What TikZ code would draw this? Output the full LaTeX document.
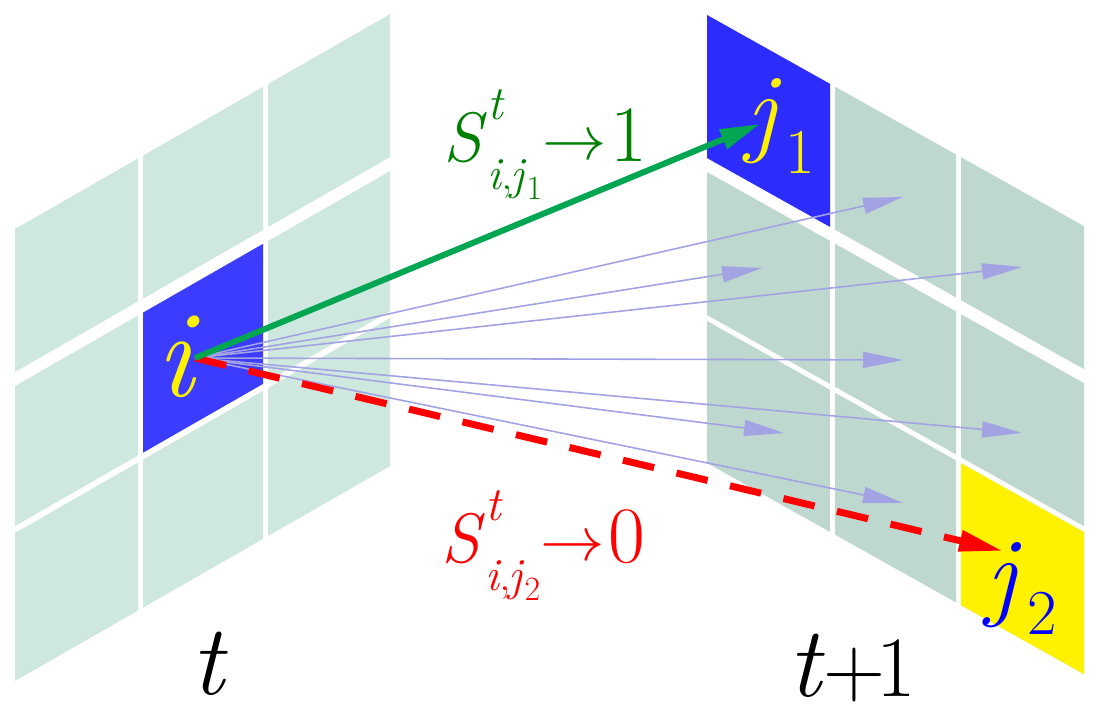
\documentclass[tikz,border=0pt]{standalone}
\usepackage{graphicx}
\usetikzlibrary{arrows.meta}
\definecolor{cellL}{HTML}{CFE8DF}
\definecolor{cellR}{HTML}{BED8CF}
\definecolor{cellBlue}{HTML}{3C3CFF}
\definecolor{cellBlueR}{HTML}{2C2CFF}
\definecolor{simGreen}{HTML}{00A651}
\definecolor{txtGreen}{HTML}{008000}
\definecolor{candLine}{HTML}{A3A3E3}
\newcommand{\fsz}[1]{\fontsize{#1}{#1}\selectfont}
\newcommand{\simlabel}[2]{{\fsz{35}\textit{S}}\rlap{\raisebox{21pt}{\fsz{24}\textit{t}}}\raisebox{-14pt}{\fsz{23}\textit{i}\hspace{-1pt},\hspace{-1pt}\textit{j}\raisebox{-5pt}{\fsz{17}#1}}\raisebox{1pt}{\scalebox{1.55}[1.5]{\fsz{20.74}$\rightarrow$}}\hspace{2pt}#2}
\begin{document}
\begin{tikzpicture}[x=0.5pt,y=-0.5pt,
    cand/.style={candLine,line width=0.8pt,-{Triangle[length=20pt,width=8pt]}},
    highsim/.style={simGreen,line width=3pt,-{Triangle[length=20pt,width=10pt]}},
    lowsim/.style={red,line width=3.5pt,dash pattern=on 16pt off 11.5pt,-{Triangle[length=22pt,width=10pt]}},
    big/.style={font=\fsz{50}}]
    \useasboundingbox (0,0) rectangle (1103,721);
    \begin{scope}[shift={(15,229)},yslant=0.573]
        \foreach \ua/\ub in {0/123,128/248,253/375}
            \foreach \va/\vb in {0/143,157/297,304/452}
                \fill[cellL] (\ua,\va) rectangle (\ub,\vb);
        \fill[cellBlue] (128,157) rectangle (248,297);
    \end{scope}
    \begin{scope}[shift={(707,15)},yslant=-0.56]
        \foreach \ua/\ub in {0/123,128/249,254/377}
            \foreach \va/\vb in {0/143,157/300,306/448}
                \fill[cellR] (\ua,\va) rectangle (\ub,\vb);
        \fill[cellBlueR] (0,0) rectangle (123,143);
        \fill[yellow] (254,306) rectangle (377,448);
    \end{scope}
    \coordinate (src) at (195,358);
    \coordinate (dstJone) at (760,124);
    \coordinate (dstJtwo) at (1003,551);
    \foreach \px/\py [count=\k] in {903/197,762/268,1022/267,903/360,784/433,1022/433,903/503}
        \coordinate (cand\k) at (\px,\py);
    \foreach \k in {1,...,7}
        \draw[cand] (src) -- (cand\k);
    \draw[lowsim] (src) -- (dstJtwo);
    \draw[highsim] (src) -- (dstJone);
    \node[anchor=base,text=yellow,font=\fsz{62}] (lblI) at (178,397) {\textit{i}};
    \node[big,anchor=base west,text=yellow,inner sep=0pt] (lblJone) at (746,144) {\textit{j}\hspace{2pt}\raisebox{-15pt}{\fsz{32}1}};
    \node[big,anchor=base west,text=blue,inner sep=0pt] (lblJtwo) at (986,607) {\textit{j}\hspace{3pt}\raisebox{-13.5pt}{\fsz{32}2}};
    \node[big,anchor=base] (lblT) at (210,694) {\textit{t}};
    \node[big,anchor=base west,inner sep=0pt] (lblTone) at (788,696) {\textit{t}\hspace{-1pt}{\fsz{43}+\hspace{-4pt}1}};
    \node[anchor=base west,inner sep=0pt,text=txtGreen,font=\fsz{40}] (simHigh) at (443,162) {\simlabel{1}{1}};
    \node[anchor=base west,inner sep=0pt,text=red,font=\fsz{40}] (simLow) at (441,562) {\simlabel{2}{0}};
\end{tikzpicture}
\end{document}
